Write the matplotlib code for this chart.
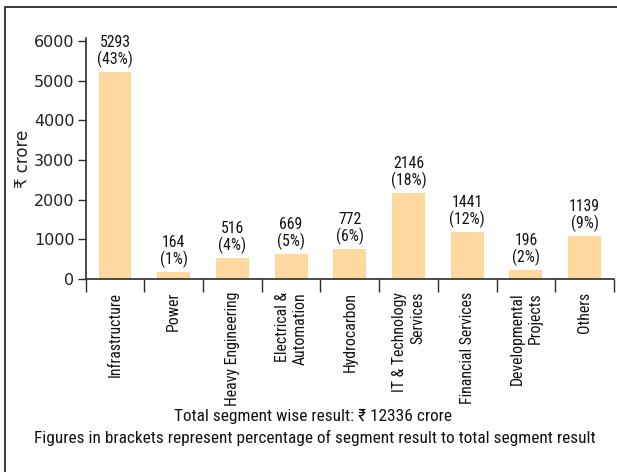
import matplotlib

matplotlib.use("Agg")

import matplotlib.pyplot as plt
from matplotlib import font_manager
from matplotlib.patches import Rectangle

segments = [
    "Infrastructure",
    "Power",
    "Heavy Engineering",
    "Electrical &\nAutomation",
    "Hydrocarbon",
    "IT & Technology\nServices",
    "Financial Services",
    "Developmental\nProjects",
    "Others",
]
# values printed above the bars
results = [5293, 164, 516, 669, 772, 2146, 1441, 196, 1139]
shares = [43, 1, 4, 5, 6, 18, 12, 2, 9]
# bar heights as drawn in the picture
bar_heights = [5220, 175, 530, 625, 760, 2165, 1185, 220, 1080]
yticks = [0, 1000, 2000, 3000, 4000, 5000, 6000]

BAR_COLOR = "#FDD9A0"
LINE_COLOR = "#2b2b2b"


def pick_narrow_font():
    """Find a condensed sans face; fall back to plain DejaVu at a smaller size."""
    fonts = font_manager.fontManager.ttflist
    names = {f.name for f in fonts}
    for name in ("Liberation Sans Narrow", "Roboto Condensed", "Open Sans Condensed",
                 "DejaVu Sans Condensed", "Noto Sans Condensed"):
        if name in names:
            return {"family": [name, "DejaVu Sans"]}, 1.0
    return {"family": ["DejaVu Sans"]}, 0.82


NARROW, SCALE = pick_narrow_font()

fig = plt.figure(figsize=(6.17, 4.72), dpi=100)

# outer frame (only top and left edges fall inside the picture)
fig.patches.append(
    Rectangle((5 / 617, -0.1), 1.2, 1 - 7 / 472 + 0.1, transform=fig.transFigure,
              fill=False, edgecolor=LINE_COLOR, linewidth=1.3)
)

ax = fig.add_axes([85.6 / 617, 1 - 279 / 472, 528.4 / 617, 240.5 / 472])
x = list(range(len(segments)))
ax.bar(x, bar_heights, width=0.56, color=BAR_COLOR, linewidth=0, zorder=2)

for xi, h, val, pct in zip(x, bar_heights, results, shares):
    ax.annotate(f"{val}\n({pct}%)", (xi, h), xytext=(0, 3), textcoords="offset points",
                ha="center", va="bottom", fontsize=11.3 * SCALE, linespacing=1.05,
                color="#111111", **NARROW)

ax.set_xlim(-0.5, len(segments) - 0.5)
ax.set_ylim(0, 6060)
ax.set_yticks(yticks)
ax.set_yticklabels([str(t) for t in yticks], fontsize=11.5, family="DejaVu Sans", color="#222222")
ax.tick_params(axis="y", length=6, width=1, color=LINE_COLOR, pad=2)

ax.set_xticks([i - 0.5 for i in range(len(segments) + 1)])
ax.set_xticklabels([])
ax.tick_params(axis="x", length=9, width=1, color=LINE_COLOR, direction="out")
for xi, name in zip(x, segments):
    ax.text(xi, -330, name, rotation=90, ha="center", va="top", multialignment="right",
            fontsize=11.3 * SCALE, linespacing=1.25, color="#111111", **NARROW)

for side in ("top", "right"):
    ax.spines[side].set_visible(False)
for side in ("left", "bottom"):
    ax.spines[side].set_color(LINE_COLOR)
    ax.spines[side].set_linewidth(1.2)

ax.set_ylabel("₹ crore", fontsize=12, family=["DejaVu Sans"], labelpad=1, color="#222222")

fig.text(313 / 617, 1 - 416 / 472, "Total segment wise result: ₹ 12336 crore",
         ha="center", va="center", fontsize=12.4 * SCALE, color="#111111", **NARROW)
fig.text(315 / 617, 1 - 438 / 472,
         "Figures in brackets represent percentage of segment result to total segment result",
         ha="center", va="center", fontsize=12.4 * SCALE, color="#111111", **NARROW)

fig.savefig("out.png", dpi=100)
plt.close(fig)
